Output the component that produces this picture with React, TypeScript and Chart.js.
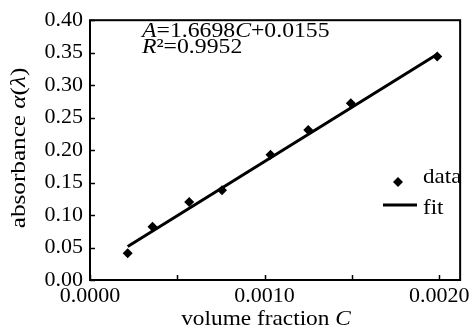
import React, { useEffect, useRef } from 'react';
import { Chart, registerables } from 'chart.js';

Chart.register(...registerables);

// ---- data ----
const volumeFraction = [0.000216, 0.000358, 0.000568, 0.000756, 0.001034, 0.00125, 0.001494, 0.001989];
const absorbance = [0.041, 0.082, 0.12, 0.138, 0.193, 0.231, 0.272, 0.344];
const fitC = [0.000216, 0.001989];
const fitA = [0.0516, 0.3476];
const xLabelledTicks = ['0.0000', '0.0010', '0.0020'];
const seriesLabels = ['data', 'fit'];

const FONT = '"Liberation Serif", "Times New Roman", serif';

type Run = { t: string; i?: boolean };

function drawRuns(
  ctx: CanvasRenderingContext2D,
  x: number,
  y: number,
  runs: Run[],
  size: number,
  sx: number,
  align: 'left' | 'center' = 'left'
) {
  ctx.save();
  ctx.translate(x, y);
  ctx.scale(sx, 1);
  ctx.textAlign = 'left';
  let total = 0;
  runs.forEach((r) => {
    ctx.font = `${r.i ? 'italic ' : ''}${size}px ${FONT}`;
    total += ctx.measureText(r.t).width;
  });
  let cx = align === 'center' ? -total / 2 : 0;
  runs.forEach((r) => {
    ctx.font = `${r.i ? 'italic ' : ''}${size}px ${FONT}`;
    ctx.fillText(r.t, cx, 0);
    cx += ctx.measureText(r.t).width;
  });
  ctx.restore();
}

const decor = {
  id: 'decor',
  afterDraw(chart: any) {
    const { ctx, chartArea: a, scales } = chart;
    ctx.save();
    ctx.fillStyle = '#000';
    ctx.strokeStyle = '#000';
    // frame
    ctx.lineWidth = 2;
    ctx.strokeRect(a.left, a.top, a.right - a.left, a.bottom - a.top);
    // inward ticks
    ctx.lineWidth = 1.5;
    scales.x.ticks.forEach((t: any) => {
      const px = Math.round(scales.x.getPixelForValue(t.value)) + 0.5;
      ctx.beginPath();
      ctx.moveTo(px, a.bottom);
      ctx.lineTo(px, a.bottom - 5);
      ctx.stroke();
    });
    scales.y.ticks.forEach((t: any) => {
      const py = Math.round(scales.y.getPixelForValue(t.value)) + 0.5;
      ctx.beginPath();
      ctx.moveTo(a.left, py);
      ctx.lineTo(a.left + 5, py);
      ctx.stroke();
    });
    // axis titles
    ctx.textBaseline = 'alphabetic';
    drawRuns(ctx, 266, 325, [{ t: 'volume fraction ' }, { t: 'C', i: true }], 21, 1.11, 'center');
    ctx.save();
    ctx.translate(25, 148);
    ctx.rotate(-Math.PI / 2);
    drawRuns(ctx, 0, 0, [{ t: 'absorbance ' }, { t: 'α', i: true }, { t: '(' }, { t: 'λ', i: true }, { t: ')' }], 21, 1.2, 'center');
    ctx.restore();
    // equation
    drawRuns(ctx, 142, 37, [{ t: 'A', i: true }, { t: '=1.6698' }, { t: 'C', i: true }, { t: '+0.0155' }], 21, 1.13);
    drawRuns(ctx, 142, 53, [{ t: 'R', i: true }, { t: '²=0.9952' }], 21, 1.13);
    // legend
    const ds = chart.data.datasets;
    ctx.beginPath();
    ctx.moveTo(398, 177);
    ctx.lineTo(403, 182);
    ctx.lineTo(398, 187);
    ctx.lineTo(393, 182);
    ctx.closePath();
    ctx.fill();
    drawRuns(ctx, 423, 183, [{ t: ds[0].label }], 21, 1.1);
    ctx.lineWidth = 3;
    ctx.beginPath();
    ctx.moveTo(383, 205);
    ctx.lineTo(417, 205);
    ctx.stroke();
    drawRuns(ctx, 423, 214, [{ t: ds[1].label }], 21, 1.1);
    ctx.restore();
  },
};

export default function App() {
  const ref = useRef<HTMLCanvasElement>(null);
  useEffect(() => {
    if (!ref.current) return;
    const chart = new Chart(ref.current, {
      type: 'scatter',
      data: {
        datasets: [
          {
            label: seriesLabels[0],
            data: volumeFraction.map((c, i) => ({ x: c, y: absorbance[i] })),
            pointStyle: 'rectRot',
            pointRadius: 5,
            backgroundColor: '#000',
            borderColor: '#000',
            borderWidth: 0,
            showLine: false,
          },
          {
            label: seriesLabels[1],
            data: fitC.map((c, i) => ({ x: c, y: fitA[i] })),
            showLine: true,
            pointRadius: 0,
            borderColor: '#000',
            borderWidth: 3,
          },
        ],
      },
      options: {
        responsive: false,
        animation: false,
        layout: { padding: { left: 0, right: 10, top: 17, bottom: 0 } },
        plugins: { legend: { display: false }, tooltip: { enabled: false } },
        scales: {
          x: {
            type: 'linear',
            min: 0,
            max: 0.00212,
            grid: { display: false, drawTicks: false },
            border: { display: false },
            afterFit: (s: any) => {
              s.height = 51;
            },
            afterBuildTicks: (s: any) => {
              const t = [];
              for (let k = 0; k <= 4; k++) t.push({ value: k * 0.0005 });
              s.ticks = t;
            },
            ticks: {
              color: '#000',
              padding: 3,
              maxRotation: 0,
              font: { family: FONT, size: 22 },
              callback: (v: any) => {
                const s = Number(v).toFixed(4);
                return xLabelledTicks.includes(s) ? s : '';
              },
            },
          },
          y: {
            type: 'linear',
            min: 0,
            max: 0.4,
            grid: { display: false, drawTicks: false },
            border: { display: false },
            afterFit: (s: any) => {
              s.width = 90;
            },
            ticks: {
              color: '#000',
              padding: 7,
              stepSize: 0.05,
              font: { family: FONT, size: 22 },
              callback: (v: any) => Number(v).toFixed(2),
            },
          },
        },
      },
      plugins: [decor],
    });
    return () => chart.destroy();
  }, []);
  return (
    <div style={{ position: 'fixed', left: 0, top: 0, width: 473, height: 331, background: '#fff' }}>
      <canvas ref={ref} width={473} height={331} />
    </div>
  );
}
